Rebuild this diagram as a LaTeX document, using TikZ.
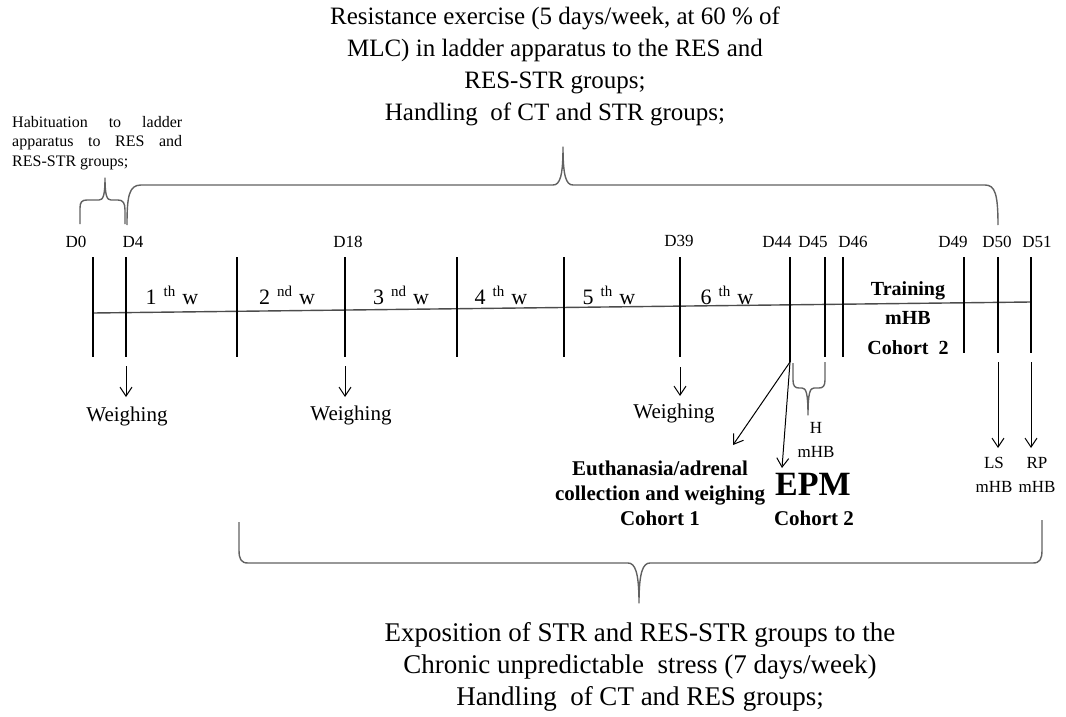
\documentclass[tikz,border=0pt]{standalone}
\usepackage{fontspec}
\setmainfont{Liberation Serif}
\usetikzlibrary{arrows.meta}
\begin{document}
\begin{tikzpicture}[x=1pt,y=-1pt,
  tickline/.style={line width=1.1pt, draw=black},
  axisline/.style={line width=1.4pt, draw=black!70},
  bracepath/.style={line width=1.4pt, draw=black!62, line join=round},
  arr/.style={line width=1pt, draw=black, -{Straight Barb[length=9pt,width=12pt,line width=1pt]}},
  dlab/.style={font=\fontsize{17}{20}\selectfont, inner sep=0pt},
  wk/.style={font=\fontsize{22}{24}\selectfont, inner sep=0pt},
  blab/.style={font=\bfseries\fontsize{21}{25}\selectfont, align=center, inner sep=0pt},
  smlab/.style={font=\fontsize{17}{24.5}\selectfont, align=center, inner sep=0pt},
  wlab/.style={font=\fontsize{21}{24}\selectfont, inner sep=0pt},
  biglab/.style={font=\fontsize{25}{32}\selectfont, align=center, inner sep=0pt},
  hablab/.style={font=\fontsize{16}{20}\selectfont, inner sep=0pt, anchor=west}
]
\useasboundingbox (0,0) rectangle (1066,717);
\newcommand{\wkl}[2]{#1\hspace{7pt}\raisebox{0.36em}{\fontsize{15}{15}\selectfont #2}\hspace{7pt}w}

% timeline axis
\coordinate (L0) at (93,313);
\coordinate (L1) at (1031,302);
\draw[axisline] (L0) -- (L1);

% ticks
\foreach \n/\x/\yb in {a/93/357, b/126/357, c/237/357, d/345/357, e/457/357, f/564/357, g/680/357, h/790/362, i/825/357, j/843/357, k/964/353, l/998/353, m/1031/353}{
  \coordinate (T\n) at (\x,257);
  \coordinate (B\n) at (\x,\yb);
  \draw[tickline] (T\n) -- (B\n);
}

% day labels
\node[dlab] (d0) at (76,242) {D0};
\node[dlab] (d4) at (133,242) {D4};
\node[dlab] (d18) at (348,242) {D18};
\node[dlab] (d39) at (679,241) {D39};
\node[dlab] (d44) at (777,242) {D44};
\node[dlab] (d45) at (813,242) {D45};
\node[dlab] (d46) at (853,242) {D46};
\node[dlab] (d49) at (953,242) {D49};
\node[dlab] (d50) at (997,242) {D50};
\node[dlab] (d51) at (1037,242) {D51};

% week labels
\node[wk] (w1) at (172,295) {\wkl{1}{th}};
\node[wk] (w2) at (287,295) {\wkl{2}{nd}};
\node[wk] (w3) at (401,295) {\wkl{3}{nd}};
\node[wk] (w4) at (501,295) {\wkl{4}{th}};
\node[wk] (w5) at (609,295) {\wkl{5}{th}};
\node[wk] (w6) at (727,295) {\wkl{6}{th}};

% training
\node[font=\bfseries\fontsize{20}{29.5}\selectfont, align=center, inner sep=0pt] (train) at (908,318) {Training\\mHB\\Cohort~~2};

% arrows
\coordinate (s4) at (126,366);  \coordinate (e4) at (126,397);
\coordinate (s18) at (345,366); \coordinate (e18) at (345,397);
\coordinate (s39) at (680,367); \coordinate (e39) at (680,396);
\coordinate (s44) at (790,362);
\coordinate (e44a) at (733,445); \coordinate (e44b) at (782,468);
\coordinate (s50) at (998,362); \coordinate (e50) at (998,448);
\coordinate (s51) at (1031,362); \coordinate (e51) at (1031,448);
\draw[arr] (s4) -- (e4);
\draw[arr] (s18) -- (e18);
\draw[arr] (s39) -- (e39);
\draw[arr] (s44) -- (e44a);
\draw[arr] (s44) -- (e44b);
\draw[arr] (s50) -- (e50);
\draw[arr] (s51) -- (e51);

% weighing labels
\node[wlab] (wg1) at (127,416) {Weighing};
\node[wlab] (wg2) at (351,415) {Weighing};
\node[wlab] (wg3) at (674,413) {Weighing};

% cohort 1 block
\node[blab] (euth) at (660,493) {Euthanasia/adrenal\\collection and weighing\\Cohort 1};
\node[font=\bfseries\fontsize{34}{34}\selectfont, inner sep=0pt] (epm) at (813,484) {EPM};
\node[blab] (coh2) at (814,518) {Cohort 2};

% small labels
\node[smlab] (hmhb) at (816,440) {H\\mHB};
\node[smlab] (lsmhb) at (994,475) {LS\\mHB};
\node[smlab] (rpmhb) at (1037,475) {RP\\mHB};

% D44-D45 brace (pointing down)
\draw[bracepath] (793,363) -- (793,380) .. controls (793,386) and (795,388) .. (799,388) -- (802,388)
  .. controls (806,388) and (808,393) .. (808,415)
  .. controls (808,393) and (810,388) .. (814,388) -- (819,388)
  .. controls (823,388) and (825,386) .. (825,380) -- (825,362);

% top small brace D0-D4
\draw[bracepath] (80,224) -- (80,208) .. controls (80,202) and (82,200) .. (87,200) -- (99,200)
  .. controls (103,200) and (105,196) .. (105,178)
  .. controls (105,196) and (107,200) .. (111,200) -- (118,200)
  .. controls (123,200) and (125,203) .. (125,210) -- (125,224);

% top big brace D4-D50
\draw[bracepath] (127,225) .. controls (127,196) and (129,185) .. (141,185) -- (553,185)
  .. controls (560,185) and (563,176) .. (563,147)
  .. controls (563,176) and (566,185) .. (573,185) -- (985,185)
  .. controls (995,185) and (998,194) .. (998,225);

% bottom brace
\draw[bracepath] (239,522) -- (239,550) .. controls (239,559) and (241,563) .. (248,563) -- (628,563)
  .. controls (635,563) and (639,572) .. (639,603)
  .. controls (639,572) and (643,563) .. (650,563) -- (1033,563)
  .. controls (1040,563) and (1042,559) .. (1042,550) -- (1042,520);

% habituation text
\node[hablab] (hab1) at (12,122) {\makebox[170pt][s]{Habituation to ladder}};
\node[hablab] (hab2) at (12,143) {\makebox[170pt][s]{apparatus to RES and}};
\node[hablab] (hab3) at (12,163) {RES-STR groups;};

% top text
\node[biglab] (toptext) at (555,66) {Resistance exercise (5 days/week, at 60 \% of\\MLC) in ladder apparatus to the RES and\\RES-STR groups;\\Handling~ of CT and STR groups;};

% bottom text
\node[font=\fontsize{27}{32}\selectfont, align=center, inner sep=0pt] (bottext) at (640,667) {Exposition of STR and RES-STR groups to the\\Chronic unpredictable~ stress (7 days/week)\\Handling~ of CT and RES groups;};
\end{tikzpicture}
\end{document}
